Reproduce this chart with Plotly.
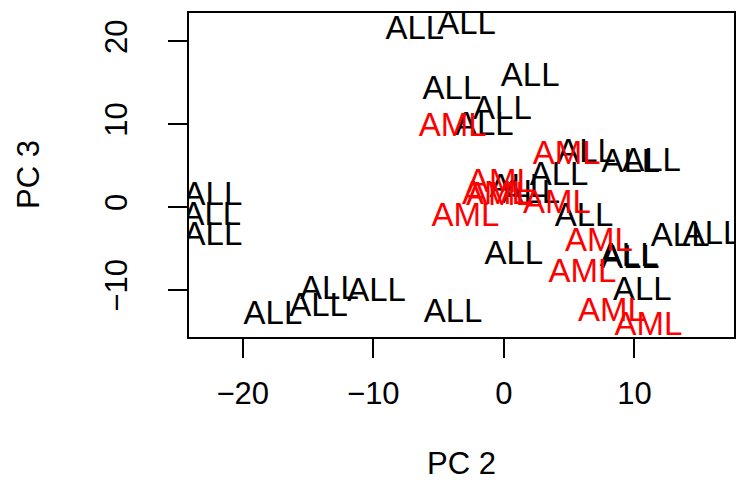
import plotly.graph_objects as go

# PC2 / PC3 scores
all_pc2 = [-6.82, -2.86, 2.02, -3.98, -0.11, -1.50, 6.34, 9.73, 11.31, 4.23,
           1.15, 2.06, 6.14, 13.51, 15.95, 9.60, 9.69, 0.76, 10.61,
           -22.29, -22.37, -22.29, -17.69, -14.20, -13.36, -9.75, -3.89]
all_pc3 = [21.29, 21.93, 15.63, 14.01, 11.65, 9.64, 6.47, 5.27, 5.34, 3.65,
           2.17, 1.45, -1.24, -3.67, -3.49, -6.14, -6.33, -5.87, -10.20,
           1.20, -1.20, -3.61, -13.10, -12.08, -10.08, -10.28, -12.89]
aml_pc2 = [-3.92, 4.82, -0.23, -0.61, -0.31, 4.07, -2.95, 7.28, 6.02, 8.27, 11.07]
aml_pc3 = [9.55, 6.14, 2.83, 1.33, 1.20, 0.30, -1.24, -4.25, -8.07, -12.69, -14.42]

x_ticks = [-20, -10, 0, 10]
y_ticks = [-10, 0, 10, 20]
x_tick_text = ["\u221220", "\u221210", "0", "10"]
y_tick_text = ["\u221210", "0", "10", "20"]

FONT = "Liberation Sans, Arial, sans-serif"
FS = 33
AFS = 31

fig = go.Figure()
fig.add_trace(go.Scatter(x=all_pc2, y=all_pc3, mode="text",
                         text=["ALL"] * len(all_pc2), textposition="middle center",
                         textfont=dict(family=FONT, size=FS, color="#000000"),
                         hoverinfo="skip", showlegend=False))
fig.add_trace(go.Scatter(x=aml_pc2, y=aml_pc3, mode="text",
                         text=["AML"] * len(aml_pc2), textposition="middle center",
                         textfont=dict(family=FONT, size=FS, color="#FF0000"),
                         hoverinfo="skip", showlegend=False))

axis_common = dict(showgrid=False, zeroline=False, showline=True, mirror=True,
                   linecolor="#000000", linewidth=1.5, ticks="outside", ticklen=19,
                   tickwidth=1.5, tickcolor="#000000",
                   tickfont=dict(family=FONT, size=AFS, color="#000000"))

fig.update_layout(
    width=737, height=482,
    margin=dict(l=189, r=1, t=13, b=145),
    paper_bgcolor="#FFFFFF", plot_bgcolor="#FFFFFF",
    xaxis=dict(range=[-24.12, 17.63], tickvals=x_ticks, ticktext=x_tick_text,
               ticklabelstandoff=9, **axis_common),
    yaxis=dict(range=[-15.66, 23.41], tickvals=y_ticks, ticktext=y_tick_text,
               tickangle=-90, ticklabelstandoff=29, **axis_common),
    annotations=[
        dict(text="PC 2", xref="paper", yref="paper", x=0.5, y=0, xanchor="center",
             yanchor="middle", yshift=-126, showarrow=False,
             font=dict(family=FONT, size=AFS, color="#000000")),
        dict(text="PC 3", xref="paper", yref="paper", x=0, y=0.5, xanchor="center",
             yanchor="middle", xshift=-161, textangle=-90, showarrow=False,
             font=dict(family=FONT, size=AFS, color="#000000")),
    ],
)

fig.write_html("out.html")
